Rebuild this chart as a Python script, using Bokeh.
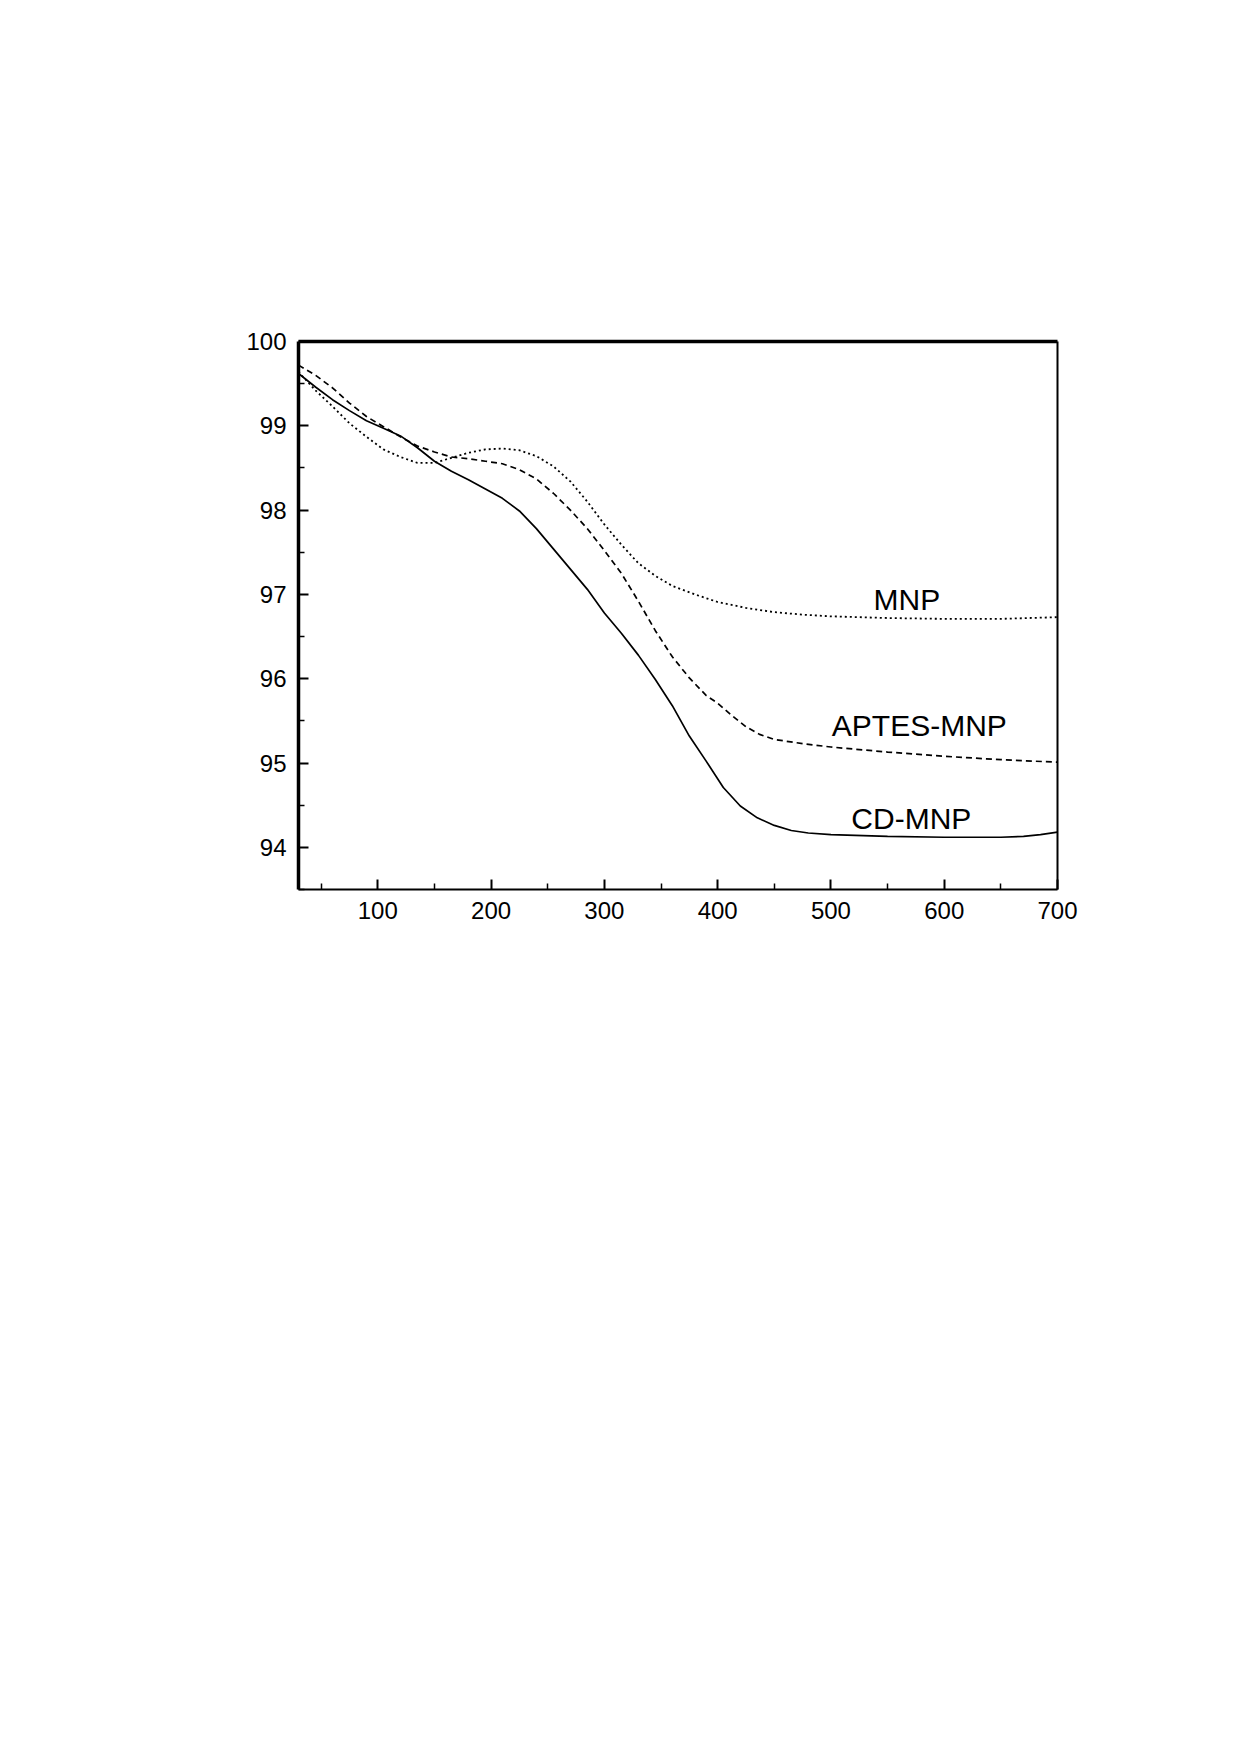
from bokeh.plotting import figure
from bokeh.models import FixedTicker, LinearAxis, Range1d
from bokeh.core.properties import value
from bokeh.embed import file_html
from bokeh.resources import INLINE

# Temperature and weight (%) for each sample
mnp_t = [30, 45, 60, 75, 90, 105, 120, 135, 150, 165, 180, 195, 210, 225, 240,
         255, 270, 285, 300, 315, 330, 345, 360, 380, 400, 425, 450, 475, 500,
         550, 600, 650, 700]
mnp_w = [99.64, 99.42, 99.23, 99.03, 98.87, 98.72, 98.63, 98.56, 98.56, 98.62,
         98.68, 98.72, 98.73, 98.71, 98.64, 98.52, 98.34, 98.10, 97.83, 97.59,
         97.37, 97.22, 97.10, 97.00, 96.91, 96.84, 96.79, 96.76, 96.74, 96.72,
         96.71, 96.71, 96.73]

aptes_t = [30, 45, 60, 75, 90, 105, 120, 135, 150, 165, 180, 195, 210, 225, 240,
           255, 270, 285, 300, 315, 330, 345, 360, 375, 390, 400, 412, 425, 437,
           450, 475, 500, 550, 600, 650, 700]
aptes_w = [99.72, 99.60, 99.45, 99.27, 99.11, 98.99, 98.87, 98.76, 98.69, 98.63,
           98.61, 98.58, 98.55, 98.48, 98.37, 98.20, 98.00, 97.78, 97.52, 97.25,
           96.92, 96.57, 96.26, 96.01, 95.80, 95.71, 95.57, 95.43, 95.34, 95.28,
           95.23, 95.19, 95.13, 95.08, 95.04, 95.01]

cd_t = [30, 45, 60, 75, 90, 105, 120, 135, 150, 165, 180, 195, 210, 225, 240,
        255, 270, 285, 300, 315, 330, 345, 360, 375, 390, 405, 420, 435, 450,
        465, 480, 500, 550, 600, 650, 670, 685, 700]
cd_w = [99.62, 99.46, 99.31, 99.18, 99.06, 98.97, 98.88, 98.74, 98.58, 98.46,
        98.36, 98.25, 98.14, 97.99, 97.78, 97.54, 97.30, 97.06, 96.78, 96.54,
        96.28, 95.99, 95.68, 95.32, 95.02, 94.71, 94.49, 94.35, 94.26, 94.20,
        94.17, 94.15, 94.13, 94.12, 94.12, 94.13, 94.15, 94.18]

x_ticks = [100, 200, 300, 400, 500, 600, 700]
x_minor = [50, 150, 250, 350, 450, 550, 650]
y_ticks = [94, 95, 96, 97, 98, 99, 100]
y_minor = [93.5, 94.5, 95.5, 96.5, 97.5, 98.5, 99.5]

labels = ["MNP", "APTES-MNP", "CD-MNP"]
label_x = [567, 578, 571]
label_y = [96.94, 95.45, 94.34]

FONT = "Liberation Sans"

p = figure(frame_width=759, frame_height=548,
           x_range=Range1d(30, 700), y_range=Range1d(93.5, 100),
           output_backend="svg", toolbar_location=None,
           min_border_left=298, min_border_top=341,
           min_border_right=60, min_border_bottom=80,
           x_axis_location=None, y_axis_location=None)
p.outline_line_color = None
p.xgrid.visible = False
p.ygrid.visible = False
p.background_fill_color = "white"
p.border_fill_color = "white"


def style(ax, width, ticks, minor):
    ax.ticker = FixedTicker(ticks=ticks, minor_ticks=minor)
    ax.axis_line_width = width
    ax.axis_line_color = "black"
    ax.major_tick_in = 10
    ax.major_tick_out = 0
    ax.minor_tick_in = 6
    ax.minor_tick_out = 0
    ax.major_tick_line_width = 2
    ax.minor_tick_line_width = 1.5
    ax.major_tick_line_color = "black"
    ax.minor_tick_line_color = "black"
    ax.major_label_text_font = FONT
    ax.major_label_text_font_size = "24px"
    ax.major_label_text_color = "black"
    ax.major_label_standoff = 12


left = LinearAxis()
style(left, 3.5, y_ticks, y_minor)
p.add_layout(left, "left")

bottom = LinearAxis()
style(bottom, 2, x_ticks, x_minor)
p.add_layout(bottom, "below")

top = LinearAxis()
style(top, 3.5, [], [])
p.add_layout(top, "above")

right = LinearAxis()
style(right, 2, [], [])
p.add_layout(right, "right")

p.line(mnp_t, mnp_w, line_color="black", line_width=1.8, line_dash="2 3")
p.line(aptes_t, aptes_w, line_color="black", line_width=1.7, line_dash="6 4")
p.line(cd_t, cd_w, line_color="black", line_width=1.7)

p.text(x=label_x, y=label_y, text=labels, text_font=value(FONT),
       text_font_size="30px", text_align="center", text_baseline="middle",
       text_color="black")

open("out.html", "w").write(file_html(p, INLINE))
